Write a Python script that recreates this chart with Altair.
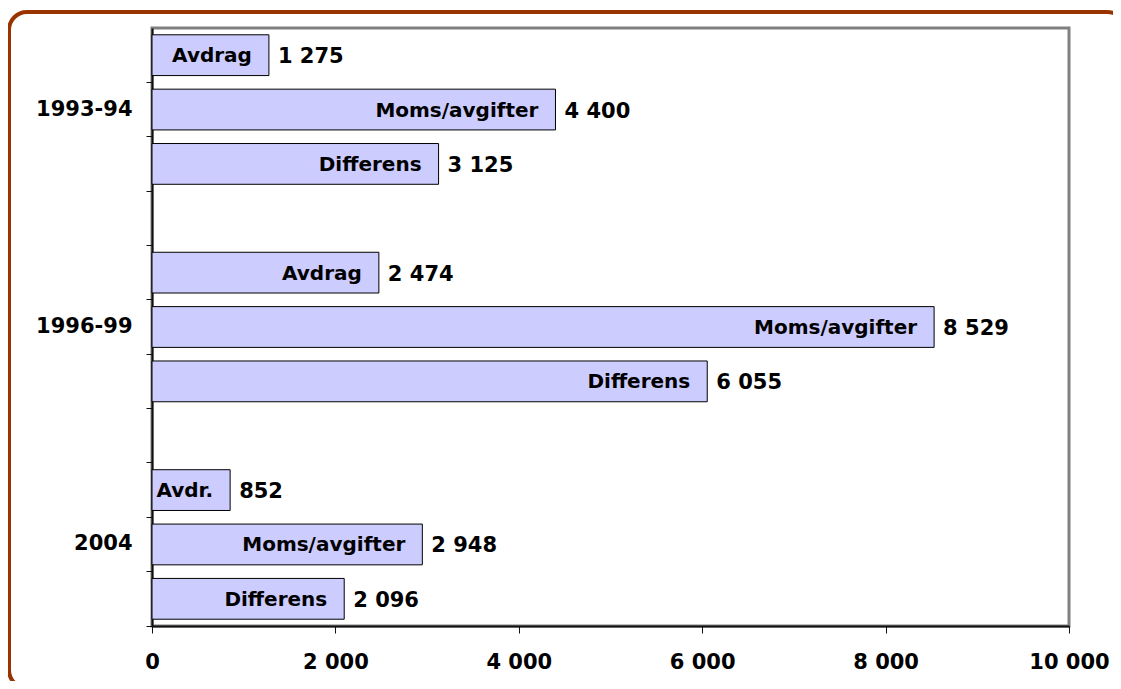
import altair as alt
import pandas as pd

periods = ["1993-94"] * 3 + ["1996-99"] * 3 + ["2004"] * 3
items = ["Avdrag", "Moms/avgifter", "Differens",
         "Avdrag", "Moms/avgifter", "Differens",
         "Avdr.", "Moms/avgifter", "Differens"]
values = [1275, 4400, 3125, 2474, 8529, 6055, 852, 2948, 2096]
positions = [0, 1, 2] * 3
x_ticks = [0, 2000, 4000, 6000, 8000, 10000]

slots = [f"{p}|{k}" for p, k in zip(periods, positions)]
domain = slots[0:3] + ["gap1"] + slots[3:6] + ["gap2"] + slots[6:9]

df = pd.DataFrame({"period": periods, "item": items, "value": values, "slot": slots})

W, H = 917, 598
FONT = "DejaVu Sans"

y_enc = alt.Y(
    "slot:N",
    scale=alt.Scale(domain=domain, paddingInner=0, paddingOuter=0),
    axis=alt.Axis(
        title=None,
        bandPosition=1,
        labelExpr="indexof(datum.value, '|1') > 0 ? slice(datum.value, 0, indexof(datum.value, '|')) : ''",
        domainColor="#111111", domainWidth=2,
        tickColor="#111111", tickSize=6, tickWidth=1,
        labelPadding=14, labelFont=FONT, labelFontSize=21, labelFontWeight="bold",
        labelColor="#000000", grid=False,
    ),
)
x_enc = alt.X(
    "value:Q",
    scale=alt.Scale(domain=[0, 10000], nice=False),
    axis=alt.Axis(
        title=None, values=x_ticks, labelFlush=False,
        labelExpr="replace(format(datum.value, ',d'), ',', ' ')",
        domainColor="#111111", domainWidth=2,
        tickColor="#111111", tickSize=7, tickWidth=1,
        labelPadding=18, labelFont=FONT, labelFontSize=21, labelFontWeight="bold",
        labelColor="#000000", grid=False,
    ),
)

base = alt.Chart(df).transform_calculate(
    vlabel="replace(format(datum.value, ',d'), ',', ' ')"
)
bars = base.mark_bar(
    fill="#CCCCFF", stroke="#000000", strokeWidth=1,
    height=alt.RelativeBandSize(0.75),
).encode(x=x_enc, y=y_enc)
inner = base.mark_text(
    align="right", baseline="middle", dx=-17, dy=1,
    font=FONT, fontWeight="bold", fontSize=20, color="#000000",
).encode(x="value:Q", y="slot:N", text="item:N")
vals = base.mark_text(
    align="left", baseline="middle", dx=9, dy=2,
    font=FONT, fontWeight="bold", fontSize=21, color="#000000",
).encode(x="value:Q", y="slot:N", text="vlabel:N")

border = alt.Chart(pd.DataFrame({"k": [0]})).mark_rect(
    fillOpacity=0, stroke="#993300", strokeWidth=4, cornerRadius=18
).encode(x=alt.value(-143), x2=alt.value(973), y=alt.value(-16), y2=alt.value(660))

chart = (
    alt.layer(border, bars, inner, vals)
    .properties(
        width=W, height=H,
        padding={"left": 144, "top": 20, "right": 44, "bottom": 55},
        autosize=alt.AutoSizeParams(type="none"),
        background="#ffffff",
    )
    .configure_view(stroke="#808080", strokeWidth=3)
)

chart.save("out.html", embed_options={"renderer": "svg", "actions": False})
